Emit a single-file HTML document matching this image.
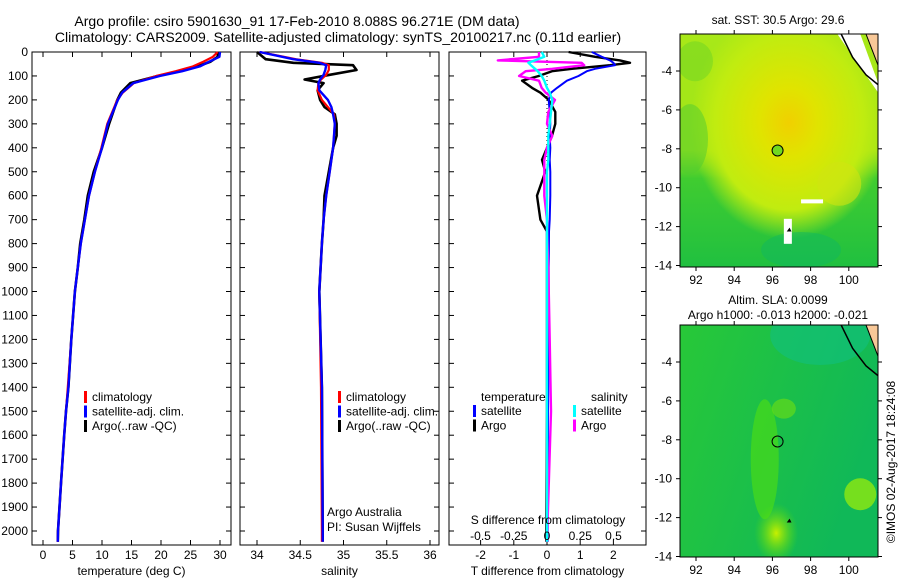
<!DOCTYPE html>
<html><head><meta charset="utf-8">
<style>
body{margin:0;background:#fff;}
svg{display:block;font-family:"Liberation Sans",sans-serif;}
text{font-size:12px;fill:#000;}
</style></head><body>
<svg id="c" width="900" height="580" viewBox="0 0 900 580" xmlns="http://www.w3.org/2000/svg">
<defs>
<radialGradient id="sstwarm" cx="0.55" cy="0.38" r="0.5">
<stop offset="0" stop-color="#f0d000"/><stop offset="0.3" stop-color="#e0e400"/><stop offset="0.75" stop-color="#c0ec10"/><stop offset="1" stop-color="#c0ec10" stop-opacity="0"/>
</radialGradient>
<linearGradient id="sstbase" x1="0" y1="0" x2="0" y2="1">
<stop offset="0" stop-color="#a8e818"/><stop offset="0.5" stop-color="#a0e418"/><stop offset="0.62" stop-color="#40cc30"/><stop offset="1" stop-color="#20c040"/>
</linearGradient>
<radialGradient id="slaA" cx="0.5" cy="0.5" r="0.5"><stop offset="0" stop-color="#c8f000"/><stop offset="1" stop-color="#60e000" stop-opacity="0"/></radialGradient>
<linearGradient id="slabase" x1="0" y1="0" x2="1" y2="0.4"><stop offset="0" stop-color="#28c838"/><stop offset="1" stop-color="#10b858"/></linearGradient>
</defs>
<g id="root"></g>
</svg>
<script>
// ---- data ----
const depthT = [0,20,40,60,80,100,130,170,200,300,400,500,600,700,800,900,1000,1200,1400,1500,1600,1800,2000,2045];
const tempClim = [29.6,28.8,27.2,25.4,22.5,19.2,15.4,13.5,12.6,10.9,9.9,8.8,7.8,7.1,6.4,5.9,5.4,4.8,4.2,3.9,3.6,3.05,2.55,2.5];
const tempSat  = [30.0,29.9,28.2,26.6,23.6,19.8,15.3,13.4,12.7,11.0,10.0,8.8,7.8,7.1,6.4,5.9,5.4,4.8,4.3,3.9,3.6,3.05,2.55,2.5];
const tempArgo = [29.7,29.6,28.4,26.2,23.2,19.4,14.8,13.2,12.6,11.2,10.0,8.6,7.6,7.0,6.3,5.9,5.4,4.8,4.3,3.9,3.6,3.05,2.55,2.5];
const depthS = [0,30,45,55,75,95,115,130,160,200,230,260,300,350,400,500,600,700,800,1000,1400,2000,2045];
const salClim = [34.03,34.45,34.75,34.83,34.83,34.80,34.74,34.71,34.70,34.75,34.82,34.89,34.90,34.89,34.88,34.84,34.80,34.77,34.75,34.72,34.74,34.75,34.75];
const salSat  = [34.03,34.42,34.72,34.80,34.79,34.77,34.73,34.71,34.72,34.82,34.86,34.88,34.90,34.89,34.88,34.84,34.80,34.77,34.75,34.72,34.75,34.76,34.76];
const salArgo = [34.00,34.10,34.42,35.11,35.15,34.84,34.55,34.77,34.70,34.73,34.78,34.90,34.92,34.92,34.88,34.83,34.78,34.77,34.75,34.72,34.75,34.76,34.76];
const depthD = [0,20,35,45,55,70,80,100,120,150,170,200,250,300,350,400,450,500,600,700,750,900,1200,1500,2045];
const dTsat  = [1.35,1.65,1.9,2.0,2.05,1.45,1.2,0.95,0.6,0.3,0.12,0.05,0.08,0.1,0.08,0.1,0.08,0.1,0.1,0.08,0.06,0.05,0.05,0.03,0.02];
const dTargo = [0.65,1.45,2.2,2.5,1.9,0.75,0.15,-0.25,-0.75,-0.45,-0.2,0.05,0.25,0.25,0.15,0.0,-0.15,-0.05,-0.3,-0.2,0.0,0.0,0.0,0.0,-0.02];
const dSsat  = [-0.04,-0.02,-0.09,-0.14,-0.12,-0.09,-0.07,-0.04,-0.02,0.0,0.02,0.04,0.03,0.02,0.01,0.01,0.01,0.0,0.0,0.0,0.0,0.0,0.0,0.0,0.0];
const dSargo = [-0.06,-0.06,-0.37,0.26,0.28,0.04,-0.16,-0.21,-0.06,-0.04,-0.01,0.06,0.01,0.0,0.04,0.0,-0.02,-0.02,-0.02,0.0,0.0,0.01,0.02,0.03,0.0];
const depthTicks = [0,100,200,300,400,500,600,700,800,900,1000,1100,1200,1300,1400,1500,1600,1700,1800,1900,2000];
const tempTicks = [0,5,10,15,20,25,30];
const salTicks = [34,34.5,35,35.5,36];
const salTickLabels = ["34","34.5","35","35.5","36"];
const dTTicks = [-2,-1,0,1,2];
const dSTicks = [-0.5,-0.25,0,0.25,0.5];
const dSTickLabels = ["-0.5","-0.25","0","0.25","0.5"];
const lonTicks = [92,94,96,98,100];
const latTicks = [-4,-6,-8,-10,-12,-14];
const argoLon = 96.271, argoLat = -8.088;

// ---- helpers ----
const NS='http://www.w3.org/2000/svg';
const root=document.getElementById('root');
function mk(tag,attrs,parent){const e=document.createElementNS(NS,tag);for(const k in attrs)e.setAttribute(k,attrs[k]);(parent||root).appendChild(e);return e;}
function txt(x,y,s,anchor,parent){const t=mk('text',{x:x,y:y,'text-anchor':anchor||'start'},parent);t.textContent=s;return t;}
const yD=d=>52+0.2395*d;
const PB=545;

function panel(name,x0,x1,xf,ticks,labels,title){
  const g=mk('g',{});
  
  
  const r=mk('rect',{x:x0,y:52,width:x1-x0,height:PB-52,fill:'#fff',stroke:'#000','stroke-width':1},g);
  
  
  depthTicks.forEach(d=>{mk('line',{x1:x0,x2:x0+5,y1:yD(d),y2:yD(d),stroke:'#000'},g);mk('line',{x1:x1-5,x2:x1,y1:yD(d),y2:yD(d),stroke:'#000'},g);});
  ticks.forEach((v,i)=>{const x=xf(v);mk('line',{x1:x,x2:x,y1:PB,y2:PB-5,stroke:'#000'},g);mk('line',{x1:x,x2:x,y1:52,y2:57,stroke:'#000'},g);
    const t=txt(x,559,labels[i],'middle',g);});
  const tt=txt((x0+x1)/2,575,title,'middle',g);
  
  
  return g;
}
function line(g,xs,ds,xf,color,name,w){
  const p=xs.map((v,i)=>(i?'L':'M')+xf(v).toFixed(1)+','+yD(ds[i]).toFixed(1)).join('');
  const e=mk('path',{d:p,fill:'none',stroke:color,'stroke-width':w||2.2,'stroke-linejoin':'round'},g);
  
  
}
function legend(g,x,y,items){
  items.forEach((it,i)=>{const yy=y+i*14.5;
    mk('rect',{x:x,y:yy-10,width:3,height:12,fill:it[1]},g);
    const t=txt(x+8,yy,it[0],'start',g);
    
    });
}

// titles
let t=txt(297,26,'Argo profile: csiro 5901630_91 17-Feb-2010 8.088S 96.271E (DM data)','middle');
t.setAttribute('font-size','14');t.style.fontSize='14px';


t=txt(338,42,'Climatology: CARS2009. Satellite-adjusted climatology: synTS_20100217.nc (0.11d earlier)','middle');
t.style.fontSize='14px';



// depth labels
depthTicks.forEach(d=>{const l=txt(28,yD(d)+4,String(d),'end');});

// panel 1 temperature
const xT=v=>43+5.9*v;
const g1=panel('temperature-panel',32,231,xT,tempTicks,tempTicks.map(String),'temperature (deg C)');
line(g1,tempArgo,depthT,xT,'#000','temp-argo-line',2.6);
line(g1,tempClim,depthT,xT,'#f00','temp-climatology-line',2.2);
line(g1,tempSat,depthT,xT,'#00f','temp-satellite-line',2.4);
legend(g1,84,401,[['climatology','#f00'],['satellite-adj. clim.','#00f'],['Argo(..raw -QC)','#000']]);

// panel 2 salinity
const xS=v=>257+86.5*(v-34);
const g2=panel('salinity-panel',240,439,xS,salTicks,salTickLabels,'salinity');
line(g2,salArgo,depthS,xS,'#000','sal-argo-line',2.6);
line(g2,salClim,depthS,xS,'#f00','sal-climatology-line',2.2);
line(g2,salSat,depthS,xS,'#00f','sal-satellite-line',2.4);
legend(g2,338,401,[['climatology','#f00'],['satellite-adj. clim.','#00f'],['Argo(..raw -QC)','#000']]);
t=txt(327,516,'Argo Australia','start',g2);
t=txt(327,531,'PI: Susan Wijffels','start',g2);

// panel 3 differences
const xDT=v=>547+33.2*v;
const xDS=v=>547+133*v;
const g3=panel('difference-panel',449,646,xDT,dTTicks,dTTicks.map(String),'T difference from climatology');
mk('line',{x1:xDT(0),x2:xDT(0),y1:52,y2:PB,stroke:'#000','stroke-dasharray':'1,3'},g3);
line(g3,dTargo,depthD,xDT,'#000','dT-argo-line',2.4);
line(g3,dTsat,depthD,xDT,'#00f','dT-satellite-line',2);
line(g3,dSargo,depthD,xDS,'#f0f','dS-argo-line',2.4);
line(g3,dSsat,depthD,xDS,'#0ff','dS-satellite-line',2.4);
t=txt(481,401,'temperature','start',g3);
t=txt(591,401,'salinity','start',g3);
legend(g3,473,415,[['satellite','#00f'],['Argo','#000']]);
legend(g3,573,415,[['satellite','#0ff'],['Argo','#f0f']]);
t=txt(548,524,'S difference from climatology','middle',g3);
dSTicks.forEach((v,i)=>{const l=txt(xDS(v),540,dSTickLabels[i],'middle',g3);});

// maps
function map(name,top,bot,lat0y,kind,title1,title2){
  const L=680,R=878;
  const xL=v=>696+19.1*(v-92);
  const yL=v=>lat0y+19.45*(-4-v);
  const g=mk('g',{});
  
  
  const clip=mk('clipPath',{id:name+'-clip'},g);mk('rect',{x:L,y:top,width:R-L,height:bot-top},clip);
  const inner=mk('g',{'clip-path':'url(#'+name+'-clip)'},g);
  if(kind==='sst'){
    mk('rect',{x:L,y:top,width:R-L,height:bot-top,fill:'url(#sstbase)'},inner);
    mk('rect',{x:L,y:top,width:R-L,height:bot-top,fill:'url(#sstwarm)'},inner);
    mk('ellipse',{cx:L+10,cy:yL(-7.5),rx:18,ry:35,fill:'#50cc30',opacity:0.5},inner);
    mk('ellipse',{cx:L+15,cy:yL(-3.5),rx:18,ry:20,fill:'#60d028',opacity:0.4},inner);
    mk('ellipse',{cx:xL(99.5),cy:yL(-9.8),rx:22,ry:22,fill:'#d0e410',opacity:0.6},inner);
    mk('ellipse',{cx:xL(97.5),cy:yL(-13.2),rx:40,ry:18,fill:'#10b860',opacity:0.5},inner);
    mk('polygon',{points:`${xL(99.4)},${top} ${xL(100.6)},${top} ${R},${yL(-4.6)} ${R},${yL(-5.1)}`,fill:'#fff'},inner);
    mk('rect',{x:xL(97.5),y:yL(-10.6),width:22,height:4,fill:'#fff'},inner);
    mk('rect',{x:xL(96.6),y:yL(-11.6),width:8,height:25,fill:'#fff'},inner);
  } else {
    mk('rect',{x:L,y:top,width:R-L,height:bot-top,fill:'url(#slabase)'},inner);
    mk('ellipse',{cx:xL(96.2),cy:yL(-12.8),rx:22,ry:30,fill:'url(#slaA)'},inner);
    mk('ellipse',{cx:xL(95.6),cy:yL(-9),rx:14,ry:60,fill:'#50e010',opacity:0.6},inner);
    mk('ellipse',{cx:xL(96.6),cy:yL(-6.4),rx:12,ry:10,fill:'#70e010',opacity:0.6},inner);
    mk('ellipse',{cx:xL(100.6),cy:yL(-10.8),rx:16,ry:16,fill:'#90e810',opacity:0.8},inner);
    mk('ellipse',{cx:xL(98.5),cy:top+10,rx:50,ry:30,fill:'#10c080',opacity:0.6},inner);
  }
  mk('polygon',{points:`${xL(100.9)},${top} ${R},${top} ${R},${yL(-3.7)}`,fill:'#f8c898',stroke:'#000','stroke-width':1},inner);
  mk('path',{d:`M${xL(99.6)},${top} L${xL(100.2)},${yL(-3.3)} L${xL(100.9)},${yL(-4.2)} L${R},${yL(-4.7)}`,fill:'none',stroke:'#000','stroke-width':1.5},inner);
  mk('polygon',{points:`${xL(96.9)},${yL(-12.05)} ${xL(96.75)},${yL(-12.25)} ${xL(97.0)},${yL(-12.25)}`,fill:'#000'},inner);
  const c=mk('circle',{cx:xL(argoLon),cy:yL(argoLat),r:5.5,fill:kind==='sst'?'#70d820':'none',stroke:'#000','stroke-width':1},g);
  
  
  mk('rect',{x:L,y:top,width:R-L,height:bot-top,fill:'none',stroke:'#000'},g);
  lonTicks.forEach(v=>{const x=xL(v);mk('line',{x1:x,x2:x,y1:bot,y2:bot+4,stroke:'#000'},g);mk('line',{x1:x,x2:x,y1:top,y2:top-4,stroke:'#000'},g);
    const l=txt(x,bot+17,String(v),'middle',g);});
  latTicks.forEach(v=>{const y=yL(v);mk('line',{x1:L,x2:L-4,y1:y,y2:y,stroke:'#000'},g);mk('line',{x1:R,x2:R+4,y1:y,y2:y,stroke:'#000'},g);
    const l=txt(L-8,y+4,String(v),'end',g);});
  let a=txt(778,title2?top-21:top-10,title1,'middle',g);
  if(title2){a=txt(778,top-6,title2,'middle',g);}
}
map('sst-map',34,267,71,'sst','sat. SST: 30.5 Argo: 29.6');
map('sla-map',325,557,362,'sla','Altim. SLA: 0.0099','Argo h1000: -0.013 h2000: -0.021');
t=txt(0,0,'©IMOS 02-Aug-2017 18:24:08','middle');
t.setAttribute('transform','translate(895,462) rotate(-90)');


</script>
</body></html>
